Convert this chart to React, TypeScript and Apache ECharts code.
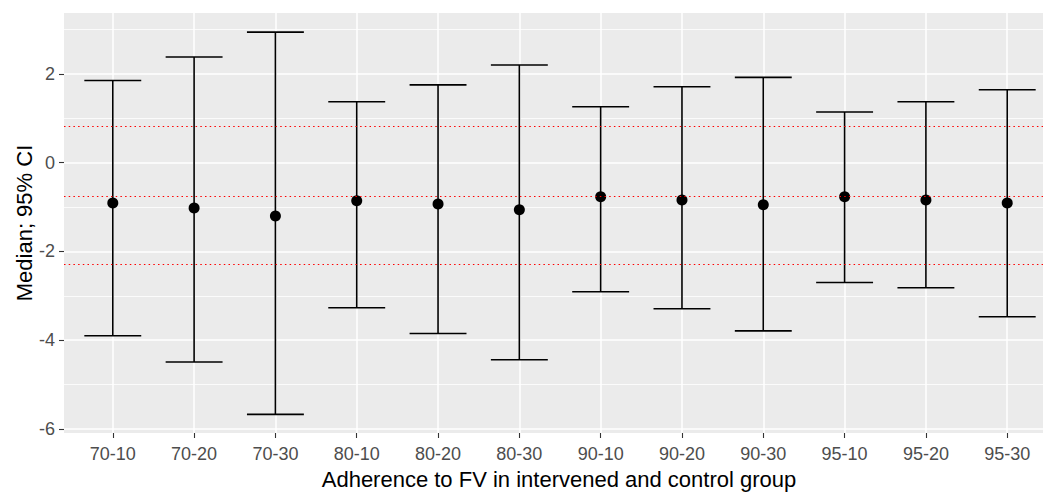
import React, { useEffect, useRef } from "react";
import * as echarts from "echarts";

const categories = ["70-10", "70-20", "70-30", "80-10", "80-20", "80-30", "90-10", "90-20", "90-30", "95-10", "95-20", "95-30"];
const medians = [-0.91, -1.02, -1.2, -0.86, -0.93, -1.06, -0.77, -0.84, -0.95, -0.77, -0.84, -0.91];
const lowerCI = [-3.9, -4.49, -5.67, -3.27, -3.85, -4.44, -2.91, -3.29, -3.79, -2.7, -2.82, -3.47];
const upperCI = [1.85, 2.38, 2.94, 1.37, 1.75, 2.2, 1.26, 1.71, 1.92, 1.14, 1.37, 1.64];
const referenceLines = [0.83, -0.75, -2.29];
const yTicks = [-6, -4, -2, 0, 2];
const yMinorTicks = [-5, -3, -1, 1, 3];
const xTitle = "Adherence to FV in intervened and control group";
const yTitle = "Median; 95% CI";

const FONT = "'Liberation Sans', Arial, sans-serif";

export default function App() {
  const ref = useRef<HTMLDivElement>(null);

  useEffect(() => {
    document.body.style.margin = "0";
    const chart = echarts.init(ref.current!, null, { renderer: "svg" });
    const xIdx = categories.map((_, i) => i);

    const gridLines: any[] = [
      ...yTicks.map((v) => ({ yAxis: v, lineStyle: { color: "#FFFFFF", width: 1.5, type: "solid" } })),
      ...yMinorTicks.map((v) => ({ yAxis: v, lineStyle: { color: "#FFFFFF", width: 0.8, type: "solid" } })),
      ...xIdx.map((v) => ({ xAxis: v, lineStyle: { color: "#FFFFFF", width: 1.5, type: "solid" } })),
    ];

    const option: any = {
      animation: false,
      grid: {
        left: 64,
        right: 2,
        top: 13,
        bottom: 60,
        show: true,
        backgroundColor: "#EBEBEB",
        borderWidth: 0,
      },
      xAxis: {
        type: "value",
        min: -0.6,
        max: 11.44,
        axisLine: { show: false, onZero: false },
        splitLine: { show: false },
        axisTick: {
          show: true,
          length: 5,
          lineStyle: { color: "#333333", width: 1.1 },
          customValues: xIdx,
        },
        axisLabel: {
          customValues: xIdx,
          formatter: (v: number) => categories[Math.round(v)] ?? "",
          color: "#4D4D4D",
          fontSize: 18,
          fontFamily: FONT,
          margin: 12,
        },
      },
      yAxis: {
        type: "value",
        min: -6.09,
        max: 3.37,
        axisLine: { show: false, onZero: false },
        splitLine: { show: false },
        axisTick: {
          show: true,
          length: 5,
          lineStyle: { color: "#333333", width: 1.1 },
          customValues: yTicks,
        },
        axisLabel: {
          customValues: yTicks,
          formatter: (v: number) => String(v),
          color: "#4D4D4D",
          fontSize: 18,
          fontFamily: FONT,
          margin: 9,
        },
      },
      graphic: [
        {
          type: "text",
          x: 559,
          y: 479,
          style: {
            text: xTitle,
            fontSize: 22,
            fontFamily: FONT,
            fill: "#000000",
            textAlign: "center",
            textVerticalAlign: "middle",
          },
        },
        {
          type: "text",
          x: 24,
          y: 223,
          rotation: Math.PI / 2,
          style: {
            text: yTitle,
            fontSize: 22,
            fontFamily: FONT,
            fill: "#000000",
            textAlign: "center",
            textVerticalAlign: "middle",
          },
        },
      ],
      series: [
        {
          type: "scatter",
          data: [],
          z: 1,
          silent: true,
          markLine: {
            z: 1,
            silent: true,
            symbol: ["none", "none"],
            label: { show: false },
            emphasis: { disabled: true },
            data: gridLines,
          },
        },
        {
          type: "custom",
          z: 3,
          data: xIdx.map((i) => [i, lowerCI[i], upperCI[i]]),
          encode: { x: 0, y: [1, 2] },
          renderItem: (params: any, api: any) => {
            const x = api.value(0);
            const lo = api.coord([x, api.value(1)]);
            const hi = api.coord([x, api.value(2)]);
            const half = api.size([0.35, 0])[0];
            const style = { stroke: "#000000", lineWidth: 1.6 };
            return {
              type: "group",
              children: [
                { type: "line", shape: { x1: lo[0], y1: lo[1], x2: hi[0], y2: hi[1] }, style },
                { type: "line", shape: { x1: hi[0] - half, y1: hi[1], x2: hi[0] + half, y2: hi[1] }, style },
                { type: "line", shape: { x1: lo[0] - half, y1: lo[1], x2: lo[0] + half, y2: lo[1] }, style },
              ],
            };
          },
        },
        {
          type: "scatter",
          z: 4,
          symbol: "circle",
          symbolSize: 11,
          itemStyle: { color: "#000000", opacity: 1 },
          data: xIdx.map((i) => [i, medians[i]]),
        },
        {
          type: "scatter",
          data: [],
          z: 10,
          silent: true,
          markLine: {
            z: 10,
            silent: true,
            symbol: ["none", "none"],
            label: { show: false },
            emphasis: { disabled: true },
            lineStyle: { color: "#FF0000", width: 1.2, type: [1.5, 3.2] },
            data: referenceLines.map((v) => ({ yAxis: v })),
          },
        },
      ],
    };

    chart.setOption(option);
    return () => chart.dispose();
  }, []);

  return <div ref={ref} style={{ width: 1045, height: 493 }} />;
}
